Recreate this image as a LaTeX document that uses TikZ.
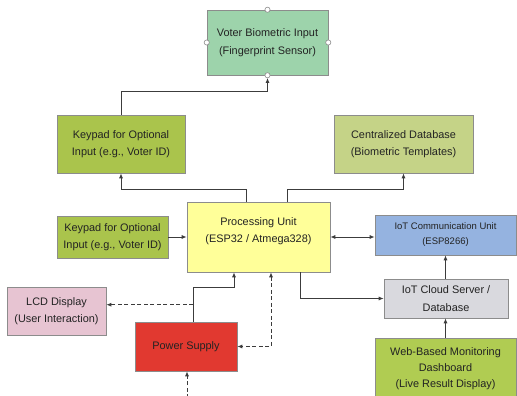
\documentclass[tikz,border=0pt]{standalone}
\usepackage{fontspec}
\setmainfont{Liberation Sans}
\usetikzlibrary{arrows.meta,positioning,calc}
\definecolor{bioGreen}{RGB}{157,211,171}
\definecolor{keyGreen}{RGB}{170,196,76}
\definecolor{dbGreen}{RGB}{197,211,135}
\definecolor{procYellow}{RGB}{255,255,153}
\definecolor{iotBlue}{RGB}{149,179,224}
\definecolor{cloudGray}{RGB}{217,217,222}
\definecolor{lcdPink}{RGB}{231,196,210}
\definecolor{pwrRed}{RGB}{225,57,48}
\definecolor{webGreen}{RGB}{176,204,82}
\definecolor{boxLine}{RGB}{140,140,140}
\definecolor{wire}{RGB}{60,60,60}
\definecolor{txt}{RGB}{35,35,35}

\begin{document}
\begin{tikzpicture}[x=1pt,y=-1pt,
    box/.style={draw=boxLine,line width=0.6pt,inner sep=0pt,align=center,
                text=txt,font=\fontsize{10.9}{17.5}\selectfont},
    arr/.style={-{Latex[length=5pt,width=4pt]},line width=0.9pt,wire},
    darr/.style={arr,dash pattern=on 4pt off 2.5pt},
    handle/.style={draw=boxLine,fill=white,line width=0.6pt}
  ]
    \useasboundingbox (0,0) rectangle (517,396);
    \clip (0,0) rectangle (517,396);

    \node[box,fill=bioGreen,minimum width=121pt,minimum height=65pt] (bio) at (267.5,42.5)
      {Voter Biometric Input\\(Fingerprint Sensor)};
    \node[box,fill=keyGreen,minimum width=128pt,minimum height=58pt] (keyTop) at (121,144)
      {Keypad for Optional\\Input (e.g., Voter ID)};
    \node[box,fill=dbGreen,minimum width=139pt,minimum height=58pt] (cdb) at (403.5,144)
      {Centralized Database\\(Biometric Templates)};
    \node[box,fill=keyGreen,minimum width=111pt,minimum height=42pt] (keyLeft) at (112.5,237)
      {Keypad for Optional\\Input (e.g., Voter ID)};
    \node[box,fill=procYellow,minimum width=143pt,minimum height=70pt] (proc) at (258.5,237)
      {Processing Unit\\(ESP32 / Atmega328)\\[-3.5pt]};
    \node[box,fill=iotBlue,minimum width=141pt,minimum height=40pt,
          font=\fontsize{9.5}{15}\selectfont] (iotc) at (445.5,235)
      {IoT Communication Unit\\(ESP8266)};
    \node[box,fill=cloudGray,minimum width=124pt,minimum height=39pt] (cloud) at (446,298.5)
      {IoT Cloud Server /\\Database};
    \node[box,fill=lcdPink,minimum width=99pt,minimum height=48pt] (lcd) at (56.5,311)
      {LCD Display\\(User Interaction)};
    \node[box,fill=pwrRed,minimum width=102pt,minimum height=49pt] (power) at (186,346.5)
      {Power Supply};
    \node[box,fill=webGreen,minimum width=141pt,minimum height=60pt,anchor=north,
          font=\fontsize{10.9}{16}\selectfont] (web) at (445.5,338)
      {Web-Based Monitoring\\Dashboard\\(Live Result Display)};

    % selection handles on the sensor box
    \foreach \a in {north,south,east,west}
      \draw[handle] (bio.\a) circle (2.6pt);

    % upper branch
    \draw[arr] (keyTop.north) -- ++(0,-23) -| ([yshift=-2.6pt]bio.south);
    \draw[arr] ([xshift=-12.5pt]proc.north) -- ++(0,-12) -| (keyTop.south);
    \draw[arr] ([xshift=28.5pt]proc.north) -- ++(0,-12) -| (cdb.south);

    % right side
    \draw[arr] (keyLeft.east) -- (keyLeft.east -| proc.west);
    \draw[arr,{Latex[length=5pt,width=4pt]}-{Latex[length=5pt,width=4pt]}]
      (proc.east) -- (proc.east -| iotc.west);
    \draw[arr] (cloud.north -| iotc.south) -- (iotc.south);
    \draw[arr] (web.north) -- (web.north |- cloud.south);
    \draw[arr] ([xshift=41.5pt]proc.south) |- (cloud.west);

    % power lines
    \coordinate (tap) at ([xshift=7pt,yshift=17pt]power.north);
    \coordinate (mains) at (187,398);
    \draw[arr] ([xshift=7pt]power.north) -- ++(0,-34) -| ([xshift=-24.5pt]proc.south);
    \draw[darr] (tap) -- (tap -| lcd.east);
    \draw[darr,{Latex[length=5pt,width=4pt]}-{Latex[length=5pt,width=4pt]}]
      ([xshift=12.5pt]proc.south) |- (power.east);
    \draw[darr] (mains) -- (mains |- power.south);
\end{tikzpicture}
\end{document}
